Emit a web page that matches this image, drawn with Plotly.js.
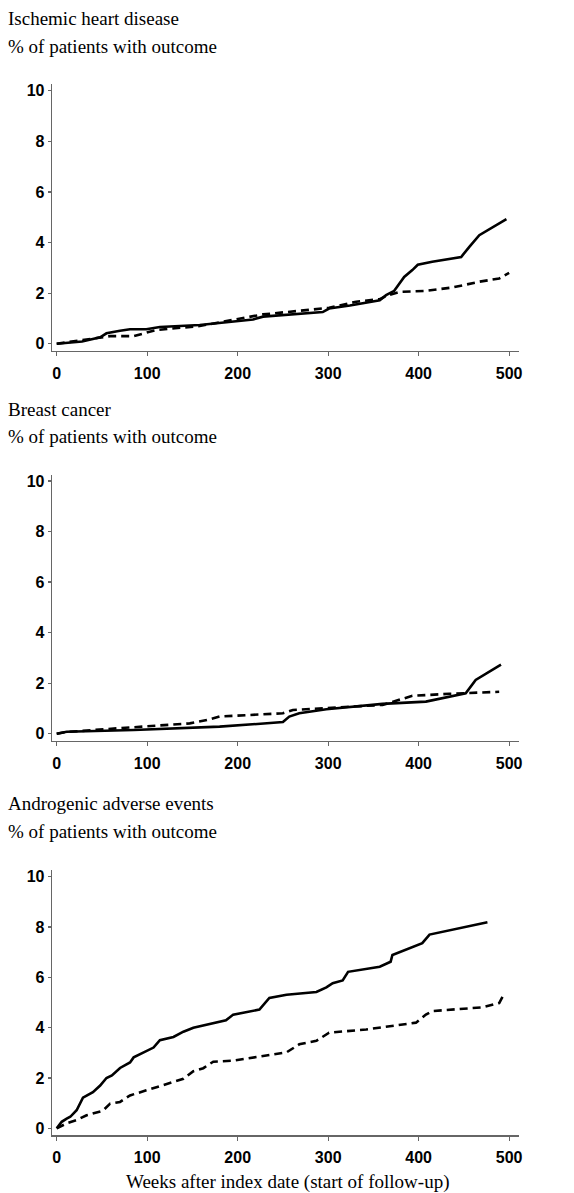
<!DOCTYPE html>
<html>
<head>
<meta charset="utf-8">
<script src="https://cdn.plot.ly/plotly-3.0.1.min.js"></script>
<style>html,body{margin:0;padding:0;background:#fff;}#chart{width:574px;height:1193px;}</style>
</head>
<body>
<div id="chart"></div>
<script>
// Panel titles
const panelTitles = ["Ischemic heart disease", "Breast cancer", "Androgenic adverse events"];
const yLabel = "% of patients with outcome";
const xLabel = "Weeks after index date (start of follow-up)";
const xTicks = [0, 100, 200, 300, 400, 500];
const yTicks = [0, 2, 4, 6, 8, 10];

// Ischemic heart disease
const ihdSolidX = [0, 28, 48, 55, 70, 81, 99, 114, 158, 195, 217, 228, 250, 294, 301, 324, 357, 364, 373, 384, 393, 399, 415, 447, 456, 467, 497];
const ihdSolidY = [0, 0.09, 0.25, 0.41, 0.51, 0.57, 0.57, 0.66, 0.74, 0.86, 0.96, 1.07, 1.12, 1.25, 1.39, 1.51, 1.72, 1.92, 2.09, 2.64, 2.91, 3.12, 3.24, 3.43, 3.83, 4.29, 4.92];
const ihdDashX = [0, 48, 59, 85, 96, 110, 158, 195, 228, 268, 301, 331, 357, 364, 379, 408, 437, 467, 489, 500];
const ihdDashY = [0, 0.25, 0.30, 0.30, 0.41, 0.54, 0.70, 0.93, 1.16, 1.30, 1.42, 1.66, 1.76, 1.89, 2.05, 2.09, 2.22, 2.45, 2.58, 2.80];

// Breast cancer
const bcSolidX = [0, 11, 85, 180, 250, 257, 268, 298, 360, 408, 452, 463, 491];
const bcSolidY = [0, 0.08, 0.15, 0.28, 0.46, 0.68, 0.81, 0.97, 1.18, 1.27, 1.60, 2.13, 2.73];
const bcDashX = [0, 11, 66, 147, 166, 180, 250, 261, 360, 379, 393, 434, 489];
const bcDashY = [0, 0.07, 0.21, 0.41, 0.54, 0.68, 0.81, 0.94, 1.14, 1.34, 1.50, 1.58, 1.66];

// Androgenic adverse events
const aaeSolidX = [0, 5.5, 11, 15, 22, 29, 40, 48, 55, 61, 70, 81, 85, 99, 107, 114, 129, 140, 151, 187, 195, 224, 235, 254, 287, 298, 305, 316, 322, 357, 369, 371, 404, 412, 476];
const aaeSolidY = [0, 0.26, 0.39, 0.46, 0.72, 1.22, 1.44, 1.70, 2.00, 2.10, 2.40, 2.62, 2.82, 3.08, 3.21, 3.50, 3.63, 3.84, 4.00, 4.29, 4.52, 4.72, 5.18, 5.31, 5.42, 5.60, 5.77, 5.88, 6.22, 6.42, 6.62, 6.89, 7.36, 7.70, 8.19];
const aaeDashX = [0, 11, 22, 33, 51, 59, 70, 81, 99, 121, 140, 151, 162, 173, 195, 254, 268, 287, 301, 342, 397, 408, 415, 471, 489, 494];
const aaeDashY = [0, 0.20, 0.33, 0.52, 0.70, 0.98, 1.05, 1.31, 1.51, 1.77, 1.97, 2.27, 2.39, 2.65, 2.69, 3.02, 3.34, 3.48, 3.80, 3.93, 4.20, 4.52, 4.66, 4.81, 4.98, 5.31];

const series = [
  [ihdSolidX, ihdSolidY, ihdDashX, ihdDashY],
  [bcSolidX, bcSolidY, bcDashX, bcDashY],
  [aaeSolidX, aaeSolidY, aaeDashX, aaeDashY]
];

const H = 1193, W = 574;
// pixel positions of plot areas (top, bottom) for each panel
const panelPix = [[84.4, 350.8], [474.7, 740.8], [870.4, 1135.4]];
const xDom = [52.2 / W, 519.1 / W];

const traces = [];
const layout = {
  width: W, height: H,
  margin: {l: 0, r: 0, t: 0, b: 0},
  paper_bgcolor: '#fff', plot_bgcolor: '#fff',
  showlegend: false,
  annotations: [],
  font: {family: 'Liberation Serif, Times New Roman, serif', color: '#000'}
};

const tickFont = {family: 'Liberation Sans, Arial, sans-serif', size: 16, color: '#000', weight: 'bold'};
const serifFont = {family: 'Liberation Serif, Times New Roman, serif', size: 19, color: '#000'};

series.forEach((s, i) => {
  const n = i + 1;
  const xa = n === 1 ? 'x' : 'x' + n;
  const ya = n === 1 ? 'y' : 'y' + n;
  traces.push({x: s[0], y: s[1], xaxis: xa, yaxis: ya, type: 'scatter', mode: 'lines',
    line: {color: '#000', width: 2.6}, hoverinfo: 'skip'});
  traces.push({x: s[2], y: s[3], xaxis: xa, yaxis: ya, type: 'scatter', mode: 'lines',
    line: {color: '#000', width: 2.6, dash: '8px,5px'}, hoverinfo: 'skip'});
  const [top, bot] = panelPix[i];
  layout['xaxis' + (n === 1 ? '' : n)] = {
    domain: xDom, anchor: ya, range: [-5, 511],
    tickvals: xTicks, ticktext: xTicks.map(String),
    showgrid: false, zeroline: false, showline: true, linecolor: '#666', linewidth: 1.5,
    ticks: 'outside', ticklen: 4, tickwidth: 1.2, tickcolor: '#666',
    tickfont: tickFont, ticklabelstandoff: 3, fixedrange: true
  };
  layout['yaxis' + (n === 1 ? '' : n)] = {
    domain: [(H - bot) / H, (H - top) / H], anchor: xa, range: [-0.28, 10.25],
    tickvals: yTicks, ticktext: yTicks.map(String),
    showgrid: false, zeroline: false, showline: true, linecolor: '#666', linewidth: 1.5,
    ticks: 'outside', ticklen: 3, tickwidth: 1.2, tickcolor: '#666',
    tickfont: tickFont, fixedrange: true
  };
  const titleCenters = [[18.3, 46.7], [409, 436.7], [803.3, 831.7]][i];
  layout.annotations.push({text: panelTitles[i], xref: 'paper', yref: 'paper', x: 6 / W, y: (H - titleCenters[0]) / H,
    xanchor: 'left', yanchor: 'middle', showarrow: false, font: serifFont});
  layout.annotations.push({text: yLabel, xref: 'paper', yref: 'paper', x: 6 / W, y: (H - titleCenters[1]) / H,
    xanchor: 'left', yanchor: 'middle', showarrow: false, font: serifFont});
});
layout.annotations.push({text: xLabel, xref: 'paper', yref: 'paper', x: 287 / W, y: (H - 1181.7) / H,
  xanchor: 'center', yanchor: 'middle', showarrow: false, font: serifFont});

Plotly.newPlot('chart', traces, layout, {displayModeBar: false, staticPlot: true});
</script>
</body>
</html>
